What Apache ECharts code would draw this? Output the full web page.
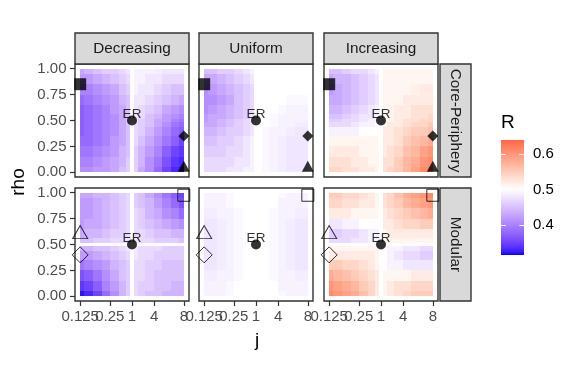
<!DOCTYPE html>
<html><head><meta charset="utf-8">
<script src="https://cdn.jsdelivr.net/npm/echarts@6/dist/echarts.min.js"></script>
<style>html,body{margin:0;padding:0;background:#fff}#c{width:576px;height:384px}</style>
</head><body><div id="c"></div>
<script>
// ---------- data ----------
const jGrid = [0.125,0.146,0.176,0.222,0.3,0.462,0.698,1,1.432,2.167,3.333,4.5,5.667,6.833,8];
const rhoRows = [1,0.9,0.8,0.7,0.6,0.533,0.5,0.467,0.4,0.3,0.2,0.1,0];
const columnNames = ['Decreasing','Uniform','Increasing'];
const rowNames = ['Core-Periphery','Modular'];
const xTickValues = [0.125,0.25,1,4,8];
const xTickLabels = ['0.125','0.25','1','4','8'];
const yTickValues = [0,0.25,0.5,0.75,1];
const yTickLabels = ['0.00','0.25','0.50','0.75','1.00'];
const legendBreaks = [0.4,0.5,0.6];
const legendLabels = ['0.4','0.5','0.6'];
const rLimits = [0.314,0.640];
const rMid = 0.5;

// R values: rows follow rhoRows (top to bottom); columns follow jGrid
const R_dec_cp = [
[.43,.44,.45,.46,.46,.47,.48,.50,.49,.49,.49,.485,.48,.48,.48],
[.42,.42,.43,.44,.45,.46,.47,.50,.49,.49,.48,.48,.47,.47,.47],
[.40,.40,.41,.42,.43,.45,.46,.50,.49,.48,.48,.47,.46,.45,.45],
[.38,.39,.40,.41,.42,.44,.45,.50,.48,.48,.47,.46,.45,.44,.43],
[.37,.38,.39,.40,.42,.43,.45,.50,.48,.47,.46,.45,.43,.42,.41],
[.37,.38,.39,.40,.41,.43,.45,.50,.48,.47,.45,.44,.42,.41,.40],
[.37,.38,.39,.40,.41,.43,.45,.50,.48,.46,.45,.43,.42,.40,.39],
[.37,.38,.39,.40,.41,.43,.45,.50,.47,.46,.45,.43,.41,.39,.38],
[.37,.38,.39,.40,.41,.43,.45,.50,.47,.46,.44,.42,.40,.38,.37],
[.38,.38,.39,.40,.42,.43,.45,.50,.47,.45,.43,.41,.39,.37,.35],
[.39,.39,.40,.41,.42,.44,.45,.50,.46,.44,.42,.40,.37,.35,.34],
[.40,.40,.41,.42,.43,.44,.46,.50,.46,.44,.41,.39,.36,.34,.33],
[.41,.41,.42,.42,.43,.45,.46,.50,.46,.43,.41,.38,.35,.33,.32]];
const R_uni_cp = [
[.45,.45,.46,.46,.47,.48,.49,.50,.50,.50,.50,.50,.50,.50,.50],
[.43,.43,.44,.45,.46,.47,.48,.50,.50,.50,.50,.50,.50,.50,.50],
[.41,.42,.43,.44,.45,.46,.47,.50,.50,.50,.50,.50,.50,.50,.50],
[.41,.41,.42,.43,.45,.46,.47,.50,.50,.50,.50,.50,.495,.495,.495],
[.41,.42,.43,.44,.45,.46,.47,.50,.50,.50,.50,.495,.49,.49,.49],
[.42,.43,.43,.44,.45,.46,.48,.50,.50,.50,.495,.49,.49,.49,.49],
[.42,.43,.44,.45,.46,.47,.48,.50,.50,.50,.495,.49,.49,.49,.485],
[.43,.43,.44,.45,.46,.47,.48,.50,.50,.50,.495,.49,.49,.485,.485],
[.44,.44,.45,.46,.46,.47,.48,.50,.50,.495,.49,.49,.485,.48,.48],
[.45,.45,.46,.46,.47,.48,.49,.50,.50,.495,.49,.485,.48,.48,.48],
[.46,.46,.46,.47,.47,.48,.49,.50,.50,.495,.49,.485,.48,.48,.48],
[.47,.47,.47,.47,.48,.48,.49,.50,.50,.495,.49,.485,.48,.48,.48],
[.47,.47,.47,.48,.48,.49,.49,.50,.50,.495,.49,.485,.48,.48,.48]];
const R_inc_cp = [
[.45,.45,.46,.47,.47,.48,.49,.50,.51,.51,.51,.51,.51,.51,.51],
[.43,.44,.44,.45,.46,.47,.48,.50,.51,.51,.51,.51,.51,.51,.51],
[.42,.43,.44,.45,.46,.47,.48,.50,.51,.51,.51,.51,.515,.52,.52],
[.43,.43,.44,.45,.46,.47,.48,.50,.51,.51,.51,.52,.52,.52,.52],
[.44,.44,.45,.46,.47,.48,.49,.50,.51,.51,.52,.52,.53,.53,.53],
[.45,.45,.46,.47,.48,.48,.49,.50,.51,.51,.52,.52,.53,.53,.54],
[.46,.46,.47,.47,.48,.49,.49,.50,.51,.51,.52,.53,.53,.54,.54],
[.47,.47,.47,.48,.49,.49,.50,.50,.51,.52,.52,.53,.54,.54,.55],
[.49,.49,.49,.49,.50,.50,.50,.50,.52,.52,.53,.54,.55,.55,.56],
[.51,.51,.51,.51,.51,.51,.51,.50,.52,.52,.53,.55,.56,.57,.58],
[.52,.52,.52,.52,.51,.51,.51,.50,.52,.53,.54,.56,.57,.59,.60],
[.53,.53,.53,.52,.52,.51,.51,.50,.53,.53,.55,.57,.58,.60,.61],
[.54,.54,.53,.53,.52,.52,.51,.50,.53,.54,.55,.57,.59,.61,.62]];
const R_dec_mod = [
[.43,.43,.44,.44,.45,.46,.47,.50,.46,.45,.43,.41,.39,.37,.35],
[.42,.42,.43,.44,.45,.46,.47,.50,.46,.45,.44,.42,.40,.38,.36],
[.42,.42,.43,.44,.45,.46,.47,.50,.47,.46,.44,.43,.41,.40,.38],
[.42,.43,.43,.44,.45,.46,.47,.50,.47,.46,.45,.44,.43,.42,.41],
[.43,.44,.44,.45,.46,.46,.47,.50,.47,.47,.46,.45,.45,.44,.44],
[.45,.45,.46,.46,.47,.47,.48,.50,.48,.47,.47,.46,.46,.46,.45],
[.50,.50,.50,.50,.50,.50,.50,.50,.50,.50,.50,.50,.50,.50,.50],
[.44,.44,.45,.45,.46,.47,.48,.50,.48,.47,.47,.47,.46,.46,.46],
[.42,.42,.43,.44,.45,.46,.47,.50,.48,.47,.47,.46,.46,.46,.46],
[.39,.40,.41,.42,.44,.45,.46,.50,.47,.47,.46,.46,.45,.45,.45],
[.36,.37,.39,.41,.43,.45,.46,.50,.47,.47,.46,.45,.45,.45,.45],
[.34,.35,.37,.40,.42,.44,.46,.50,.47,.46,.46,.45,.45,.44,.44],
[.32,.33,.35,.38,.41,.44,.46,.50,.47,.46,.45,.45,.44,.44,.44]];
const R_uni_mod = [
[.49,.49,.49,.495,.50,.50,.50,.50,.50,.50,.50,.495,.49,.49,.49],
[.49,.49,.49,.495,.50,.50,.50,.50,.50,.50,.50,.49,.49,.49,.49],
[.485,.485,.49,.49,.495,.50,.50,.50,.50,.50,.495,.49,.49,.485,.485],
[.48,.48,.485,.49,.495,.50,.50,.50,.50,.50,.495,.49,.485,.48,.48],
[.48,.48,.485,.49,.495,.50,.50,.50,.50,.50,.495,.49,.485,.48,.48],
[.48,.48,.485,.49,.495,.50,.50,.50,.50,.50,.495,.49,.485,.48,.48],
[.48,.48,.485,.49,.495,.50,.50,.50,.50,.50,.495,.49,.485,.48,.48],
[.48,.48,.485,.49,.495,.50,.50,.50,.50,.50,.495,.49,.485,.48,.48],
[.48,.48,.485,.49,.495,.50,.50,.50,.50,.50,.495,.49,.485,.48,.48],
[.48,.48,.485,.49,.495,.50,.50,.50,.50,.50,.495,.49,.485,.48,.48],
[.485,.485,.49,.49,.495,.50,.50,.50,.50,.50,.495,.49,.49,.485,.485],
[.49,.49,.49,.495,.50,.50,.50,.50,.50,.50,.50,.49,.49,.49,.49],
[.49,.49,.49,.495,.50,.50,.50,.50,.50,.50,.50,.495,.49,.49,.49]];
const R_inc_mod = [
[.55,.55,.54,.54,.53,.52,.51,.50,.53,.54,.56,.58,.59,.60,.61],
[.54,.54,.53,.53,.52,.52,.51,.50,.53,.54,.55,.57,.58,.59,.60],
[.52,.52,.52,.51,.51,.51,.51,.50,.52,.53,.54,.55,.56,.57,.58],
[.48,.48,.49,.49,.50,.50,.50,.50,.52,.52,.53,.54,.54,.55,.55],
[.46,.46,.47,.47,.48,.49,.49,.50,.51,.52,.52,.52,.52,.52,.52],
[.47,.47,.47,.48,.48,.49,.49,.50,.51,.51,.51,.51,.51,.51,.51],
[.50,.50,.50,.50,.50,.50,.50,.50,.50,.50,.50,.50,.50,.50,.50],
[.51,.51,.51,.51,.51,.51,.51,.50,.50,.49,.49,.48,.48,.47,.47],
[.52,.52,.52,.52,.52,.52,.51,.50,.50,.49,.48,.47,.47,.46,.46],
[.55,.55,.54,.54,.53,.52,.51,.50,.50,.49,.49,.48,.48,.48,.48],
[.58,.57,.56,.55,.54,.53,.52,.50,.51,.51,.51,.51,.52,.52,.52],
[.60,.59,.58,.57,.55,.54,.52,.50,.51,.52,.53,.53,.54,.54,.54],
[.61,.60,.59,.58,.56,.54,.52,.50,.51,.52,.53,.54,.55,.55,.55]];
const panelValues = [[R_dec_cp,R_uni_cp,R_inc_cp],[R_dec_mod,R_uni_mod,R_inc_mod]];

// reference network points
const markerShapes = ['square','circle','diamond','triangle'];
const cpMarkerJ   = [0.125, 1, 8, 8];
const cpMarkerRho = [0.85, 0.5, 0.35, 0.04];
const modMarkerJ   = [8, 1, 0.125, 0.125];
const modMarkerRho = [0.975, 0.5, 0.4, 0.6];
const erLabelJ = [1];
const erLabelRho = [0.5];
const erLabelText = ['ER'];

// j axis scale of the original: ratio scale symmetric about j = 1
function jToAxis(j){ return j>=1 ? j-1 : 1-1/j; }
const J_LIMIT = jToAxis(8);

// ---------- colour scale (Lab, like scale_fill_gradient2) ----------
function toLin(c){c/=255;return c<=0.04045?c/12.92:Math.pow((c+0.055)/1.055,2.4);}
function toSrgb(c){c=c<=0.0031308?12.92*c:1.055*Math.pow(c,1/2.4)-0.055;return Math.max(0,Math.min(255,Math.round(c*255)));}
const Xn=0.95047,Yn=1,Zn=1.08883;
function rgb2lab(rgb){const r=toLin(rgb[0]),g=toLin(rgb[1]),b=toLin(rgb[2]);
  const x=(0.4124564*r+0.3575761*g+0.1804375*b)/Xn,y=(0.2126729*r+0.7151522*g+0.0721750*b)/Yn,z=(0.0193339*r+0.1191920*g+0.9503041*b)/Zn;
  const f=t=>t>0.008856?Math.cbrt(t):7.787*t+16/116;const fx=f(x),fy=f(y),fz=f(z);
  return [116*fy-16,500*(fx-fy),200*(fy-fz)];}
function lab2rgb(lab){const fy=(lab[0]+16)/116,fx=fy+lab[1]/500,fz=fy-lab[2]/200;
  const fi=t=>t*t*t>0.008856?t*t*t:(t-16/116)/7.787;
  const x=fi(fx)*Xn,y=fi(fy)*Yn,z=fi(fz)*Zn;
  const r=3.2404542*x-1.5371385*y-0.4985314*z,g=-0.9692660*x+1.8760108*y+0.0415560*z,b=0.0556434*x-0.2040259*y+1.0572252*z;
  return 'rgb('+toSrgb(r)+','+toSrgb(g)+','+toSrgb(b)+')';}
const LOW=rgb2lab([0,0,255]),MID=rgb2lab([255,255,255]),HIGH=rgb2lab([255,0,0]);
const halfSpan=Math.max(rMid-rLimits[0],rLimits[1]-rMid);
function fillOf(v){let t=(v-rMid)/halfSpan;t=Math.max(-1,Math.min(1,t));const e=t<0?LOW:HIGH,a=Math.abs(t);
  return lab2rgb([MID[0]+(e[0]-MID[0])*a,MID[1]+(e[1]-MID[1])*a,MID[2]+(e[2]-MID[2])*a]);}
function labelFor(values,labels){
  return v=>{let k=0,best=Infinity;values.forEach((t,i)=>{const d=Math.abs(t-v);if(d<best){best=d;k=i;}});return labels[k];};
}

// ---------- layout ----------
const FONT = "'Liberation Sans', Arial, Helvetica, sans-serif";
const panelLeft = [75,199,324], panelTop = [64,188], panelW = 114, panelH = 113;
const stripH = 31, rightStripX = 440, rightStripW = 31;
const tickFont = 15, stripFont = 15.3, titleFont = 19;
const X_PAD = 0.05*2*J_LIMIT;

const grids=[],xAxes=[],yAxes=[],series=[],graphics=[],extraX=[];
const axisGrid = jGrid.map(jToAxis);
const xTickAxis = xTickValues.map(jToAxis);

function tileRender(params, api){
  const ci=api.value(3), ri=api.value(4), n=axisGrid.length, m=rhoRows.length;
  const xl = ci>0 ? (axisGrid[ci-1]+axisGrid[ci])/2 : axisGrid[0];
  const xr = ci<n-1 ? (axisGrid[ci]+axisGrid[ci+1])/2 : axisGrid[n-1];
  const rt = ri>0 ? (rhoRows[ri-1]+rhoRows[ri])/2 : rhoRows[0];
  const rb = ri<m-1 ? (rhoRows[ri]+rhoRows[ri+1])/2 : rhoRows[m-1];
  const p0=api.coord([xl,rt]), p1=api.coord([xr,rb]);
  const x0=Math.round(p0[0]),y0=Math.round(p0[1]),x1=Math.round(p1[0]),y1=Math.round(p1[1]);
  return {type:'rect',shape:{x:x0,y:y0,width:x1-x0,height:y1-y0},style:{fill:fillOf(api.value(2))}};
}
const symbolOf = {square:'rect',circle:'circle',diamond:'diamond',triangle:'triangle'};
const filledSize = {square:12,circle:10,diamond:[11,11],triangle:[12,11]};
const openSize = {square:12,circle:10,diamond:[16,16],triangle:[15,13]};
const triOffset = {triangle:[0,-2]};

function xAxisFor(g, show, ticks){
  return {gridIndex:g,type:'value',min:-J_LIMIT-X_PAD,max:J_LIMIT+X_PAD,position:'bottom',offset:0,
    axisLine:{show:false,onZero:false},splitLine:{show:false},
    axisTick:{show:show,customValues:ticks,length:5,lineStyle:{color:'#333',width:1.2}},
    axisLabel:{show:show,customValues:ticks,formatter:labelFor(xTickAxis,xTickLabels),
      showMinLabel:true,showMaxLabel:true,hideOverlap:false,
      color:'#4d4d4d',fontSize:tickFont,fontFamily:FONT,margin:8}};
}
// alternate ticks over two axes so overlapping labels are all drawn (as in the original)
const ticksA = xTickAxis.filter((v,i)=>i%2===0), ticksB = xTickAxis.filter((v,i)=>i%2===1);

for(let r=0;r<2;r++){
  for(let c=0;c<3;c++){
    const g=grids.length;
    grids.push({left:panelLeft[c],top:panelTop[r],width:panelW,height:panelH,show:true,
      backgroundColor:'#fff',borderColor:'#333',borderWidth:1.4});
    xAxes.push(xAxisFor(g, r===1, ticksA));
    if(r===1) extraX.push(xAxisFor(g, true, ticksB));
    yAxes.push({gridIndex:g,type:'value',min:-0.045,max:1.045,position:'left',
      axisLine:{show:false,onZero:false},splitLine:{show:false},
      axisTick:{show:c===0,customValues:yTickValues,length:5,lineStyle:{color:'#333',width:1.2}},
      axisLabel:{show:c===0,customValues:yTickValues,formatter:labelFor(yTickValues,yTickLabels),
        showMinLabel:true,showMaxLabel:true,hideOverlap:false,
        color:'#4d4d4d',fontSize:tickFont,fontFamily:FONT,margin:8.5}});
    const vals=panelValues[r][c], data=[];
    rhoRows.forEach((rho,ri)=>jGrid.forEach((j,ci)=>data.push([jToAxis(j),rho,vals[ri][ci],ci,ri])));
    series.push({type:'custom',xAxisIndex:g,yAxisIndex:g,renderItem:tileRender,data:data,
      encode:{x:0,y:1},z:1,silent:true,clip:true});
    series.push({type:'scatter',xAxisIndex:g,yAxisIndex:g,z:2,clip:false,symbolSize:1,
      itemStyle:{color:'rgba(0,0,0,0)'},
      data:erLabelJ.map((j,i)=>({value:[jToAxis(j),erLabelRho[i]],name:erLabelText[i]})),
      label:{show:true,position:'inside',offset:[0,-6],formatter:p=>p.name,color:'#000',fontSize:13.5,fontFamily:FONT}});
    const mj = r===0?cpMarkerJ:modMarkerJ, mr = r===0?cpMarkerRho:modMarkerRho;
    series.push({type:'scatter',xAxisIndex:g,yAxisIndex:g,z:3,clip:false,
      data:markerShapes.map((s,i)=>{
        const open = r===1 && s!=='circle';
        return {value:[jToAxis(mj[i]),mr[i]],symbol:symbolOf[s],
          symbolSize:(r===0?filledSize:openSize)[s],symbolOffset:triOffset[s]||[0,0],
          itemStyle:open?{color:'rgba(0,0,0,0)',borderColor:'#000',borderWidth:1}:{color:'#000'}};
      })});
  }
}
// strips
columnNames.forEach((name,c)=>{
  graphics.push({type:'rect',shape:{x:panelLeft[c],y:panelTop[0]-stripH,width:panelW,height:stripH},
    style:{fill:'#d9d9d9',stroke:'#333',lineWidth:1.4},z:10});
  graphics.push({type:'text',x:panelLeft[c]+panelW/2,y:panelTop[0]-stripH/2,
    style:{text:name,fill:'#1a1a1a',font:stripFont+'px '+FONT,align:'center',verticalAlign:'middle'},z:11});
});
rowNames.forEach((name,r)=>{
  graphics.push({type:'rect',shape:{x:rightStripX,y:panelTop[r],width:rightStripW,height:panelH},
    style:{fill:'#d9d9d9',stroke:'#333',lineWidth:1.4},z:10});
  graphics.push({type:'text',x:rightStripX+rightStripW/2,y:panelTop[r]+panelH/2,rotation:-Math.PI/2,
    style:{text:name,fill:'#1a1a1a',font:stripFont+'px '+FONT,align:'center',verticalAlign:'middle'},z:11});
});
graphics.push({type:'text',x:19,y:182,rotation:Math.PI/2,
  style:{text:'rho',fill:'#000',font:titleFont+'px '+FONT,align:'center',verticalAlign:'middle'}});
graphics.push({type:'text',x:257,y:341,
  style:{text:'j',fill:'#000',font:titleFont+'px '+FONT,align:'center',verticalAlign:'middle'}});
graphics.push({type:'text',x:501,y:123,
  style:{text:'R',fill:'#000',font:titleFont+'px '+FONT,align:'left',verticalAlign:'middle'}});

// colour bar
const lg = grids.length;
grids.push({left:501,top:140,width:23,height:115});
xAxes.push({gridIndex:lg,type:'value',min:0,max:1,show:false});
yAxes.push({gridIndex:lg,type:'value',min:rLimits[0],max:rLimits[1],position:'right',
  axisLine:{show:false,onZero:false},axisTick:{show:false},splitLine:{show:false},
  axisLabel:{customValues:legendBreaks,formatter:labelFor(legendBreaks,legendLabels),
    showMinLabel:true,showMaxLabel:true,color:'#000',fontSize:tickFont,fontFamily:FONT,margin:9}});
extraX.forEach(a=>xAxes.push(a));
const stops=[];
for(let k=0;k<=40;k++){stops.push({offset:k/40,color:fillOf(rLimits[1]-(rLimits[1]-rLimits[0])*k/40)});}
series.push({type:'custom',xAxisIndex:lg,yAxisIndex:lg,silent:true,data:[[0,rLimits[0]]],
  renderItem:(params,api)=>{
    const p0=api.coord([0,rLimits[1]]),p1=api.coord([1,rLimits[0]]);
    const ch=[{type:'rect',shape:{x:p0[0],y:p0[1],width:p1[0]-p0[0],height:p1[1]-p0[1]},
      style:{fill:{type:'linear',x:0,y:0,x2:0,y2:1,colorStops:stops}}}];
    const tw=(p1[0]-p0[0])/5;
    legendBreaks.forEach(b=>{const y=Math.round(api.coord([0,b])[1])+0.5;
      ch.push({type:'line',shape:{x1:p0[0],y1:y,x2:p0[0]+tw,y2:y},style:{stroke:'#fff',lineWidth:1}});
      ch.push({type:'line',shape:{x1:p1[0]-tw,y1:y,x2:p1[0],y2:y},style:{stroke:'#fff',lineWidth:1}});});
    return {type:'group',children:ch};
  }});

const chart=echarts.init(document.getElementById('c'),null,{renderer:'canvas'});
chart.setOption({animation:false,backgroundColor:'#fff',textStyle:{fontFamily:FONT},
  grid:grids,xAxis:xAxes,yAxis:yAxes,series:series,graphic:graphics});
</script></body></html>
